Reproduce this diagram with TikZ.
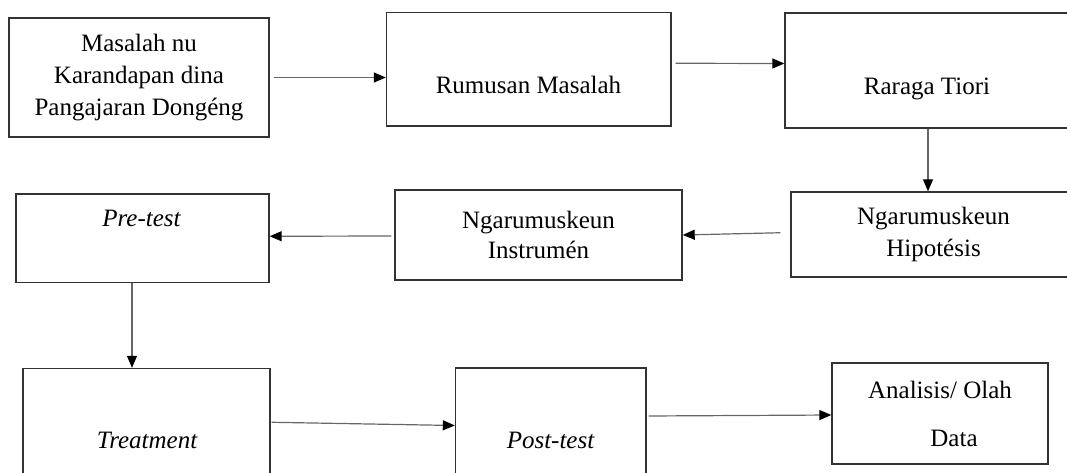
\documentclass[tikz,border=0pt]{standalone}
\usepackage{fontspec}
\setmainfont{Liberation Serif}
\usetikzlibrary{arrows.meta}

\begin{document}
\begin{tikzpicture}[x=1pt, y=-1pt,
	box/.style={draw=black!80, line width=1.4pt, inner sep=0pt},
	txt/.style={font=\fontsize{25}{32}\selectfont, align=center, inner sep=0pt},
	arr/.style={-{Triangle[length=12pt,width=10pt,color=black]}, draw=black!60, line width=1.2pt}]
	\useasboundingbox (0,0) rectangle (1067,472);
	\clip (0,0) rectangle (1067,472);

	% baris kahiji
	\node[box, txt, minimum width=260pt, minimum height=119pt] (masalah) at (139,77.5) {Masalah nu\\Karandapan dina\\Pangajaran Dongéng};
	\node[box, minimum width=284.5pt, minimum height=113.5pt] (rumusan) at (528.75,69.25) {};
	\node[txt, anchor=base] (rumusantxt) at (528.5,93) {Rumusan Masalah};
	\node[box, minimum width=286pt, minimum height=115pt] (raraga) at (928,70.5) {};
	\node[txt, anchor=base] (raragatxt) at (927,94.3) {Raraga Tiori};

	% baris kadua
	\node[box, txt, minimum width=285pt, minimum height=85pt] (hipotesis) at (933.5,234.5) {Ngarumuskeun\\Hipotésis};
	\node[box, txt, minimum width=287pt, minimum height=90pt] (instrumen) at (538.5,235) {Ngarumuskeun\\[-2pt]Instrumén};
	\node[box, minimum width=253pt, minimum height=88.5pt] (pretest) at (142.5,238.25) {};
	\node[txt, anchor=base] (pretesttxt) at (141.5,226.7) {\itshape Pre-test};

	% baris katilu
	\node[box, minimum width=247pt, minimum height=121.5pt] (treatment) at (146.5,429.25) {};
	\node[txt, anchor=base] (treatmenttxt) at (147,448) {\itshape Treatment};
	\node[box, minimum width=190.5pt, minimum height=122pt] (posttest) at (550.75,429) {};
	\node[txt, anchor=base] (posttesttxt) at (550.5,448) {\itshape Post-test};
	\node[box, txt, minimum width=216pt, minimum height=101pt] (analisis) at (940,413.5) {Analisis/ Olah\\[16pt]\hspace*{28pt}Data};

	% panah
	\draw[arr, shorten <=4pt] (masalah.east) -- (masalah.east -| rumusan.west);
	\draw[arr, shorten <=4pt] ([yshift=6pt]rumusan.east) -- ([yshift=7pt]raraga.west);
	\draw[arr] (raraga.south) -- (raraga.south |- hipotesis.north);
	\draw[arr, shorten <=10pt] ([yshift=2pt]hipotesis.west) -- (instrumen.east);
	\draw[arr, shorten <=3pt] ([yshift=-1pt]instrumen.west) -- ([yshift=2pt]pretest.east);
	\draw[arr] ([xshift=-10.5pt]pretest.south) -- ([xshift=-10.5pt]pretest.south |- treatment.north);
	\draw[arr, shorten <=1pt] ([yshift=7pt]treatment.east) -- ([yshift=3.5pt]posttest.west);
	\draw[arr, shorten <=2pt] ([yshift=13pt]posttest.east) -- ([yshift=-1.5pt]analisis.west);
\end{tikzpicture}
\end{document}
